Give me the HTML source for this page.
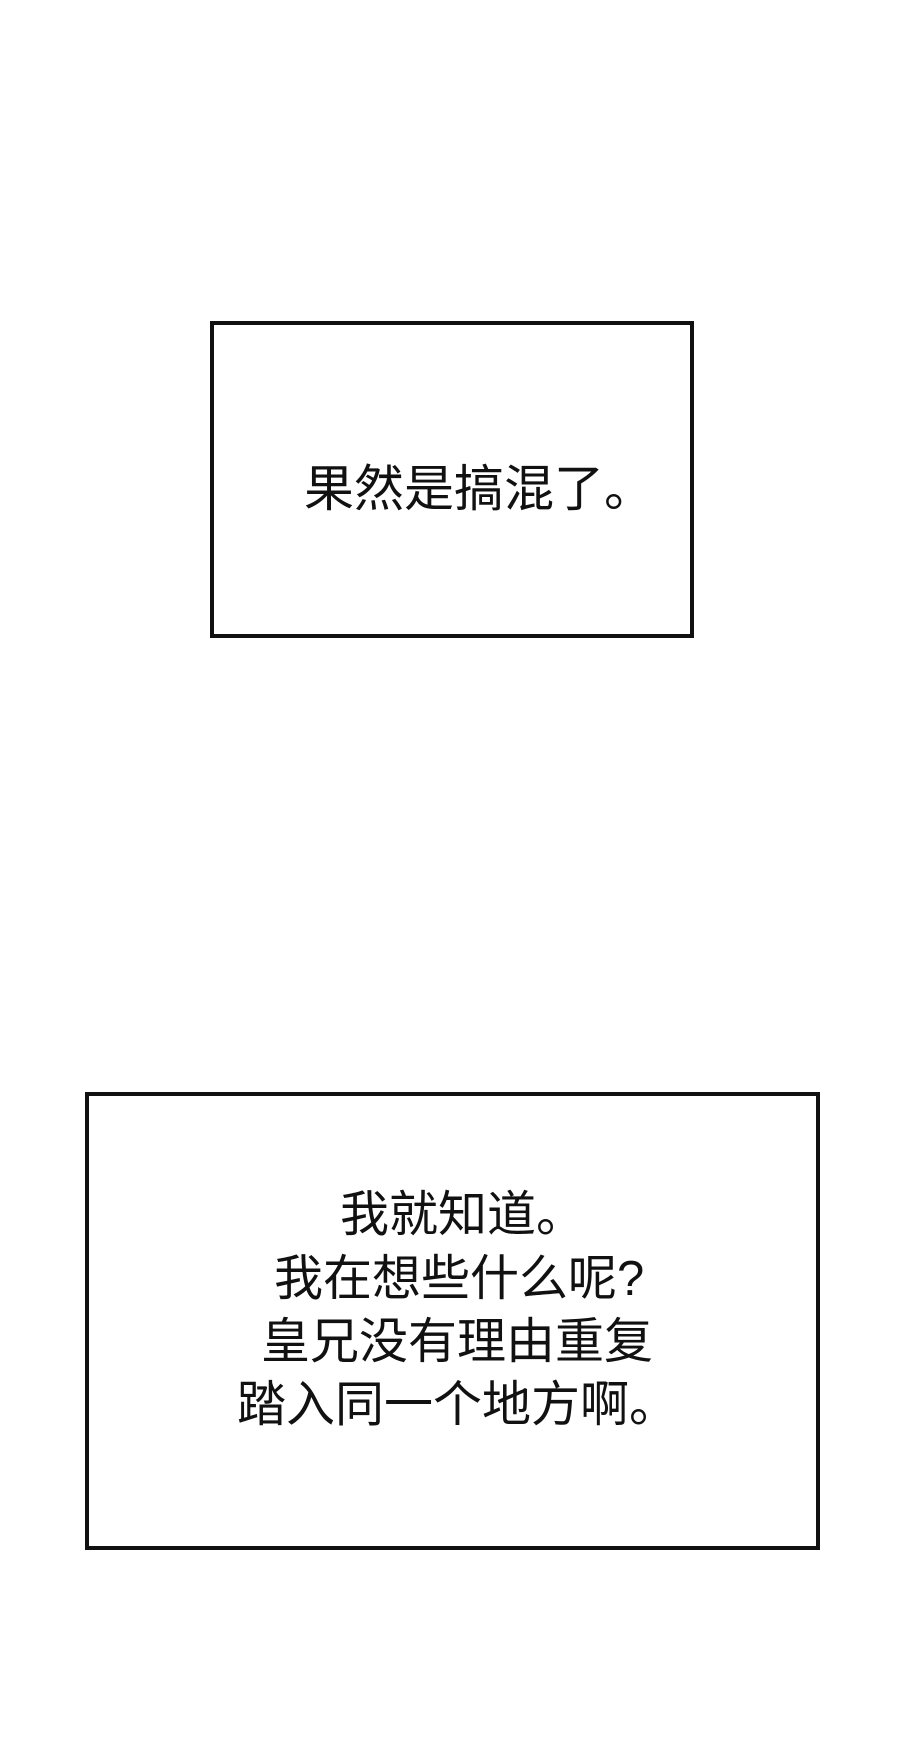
<!DOCTYPE html>
<html><head><meta charset="utf-8"><style>
html,body{margin:0;padding:0;background:#fff;}
body{width:900px;height:1755px;position:relative;overflow:hidden;font-family:"Liberation Sans","Noto Sans CJK SC",sans-serif;color:#111;}
.box{position:absolute;border:4px solid #111;box-sizing:border-box;background:#fff;}
.t{position:absolute;font-size:49px;line-height:1;white-space:nowrap;}
</style></head><body>
<div class="box" style="left:210px;top:321px;width:484px;height:317px;"></div>
<div class="t" style="left:304px;top:464px;font-size:50px;">果然是搞混了。</div>
<div class="box" style="left:85px;top:1092px;width:735px;height:458px;"></div>
<div class="t" style="left:340px;top:1191px;">我就知道。</div>
<div class="t" style="left:274px;top:1255px;">我在想些什么呢?</div>
<div class="t" style="left:261px;top:1318px;">皇兄没有理由重复</div>
<div class="t" style="left:237px;top:1381px;">踏入同一个地方啊。</div>
</body></html>
